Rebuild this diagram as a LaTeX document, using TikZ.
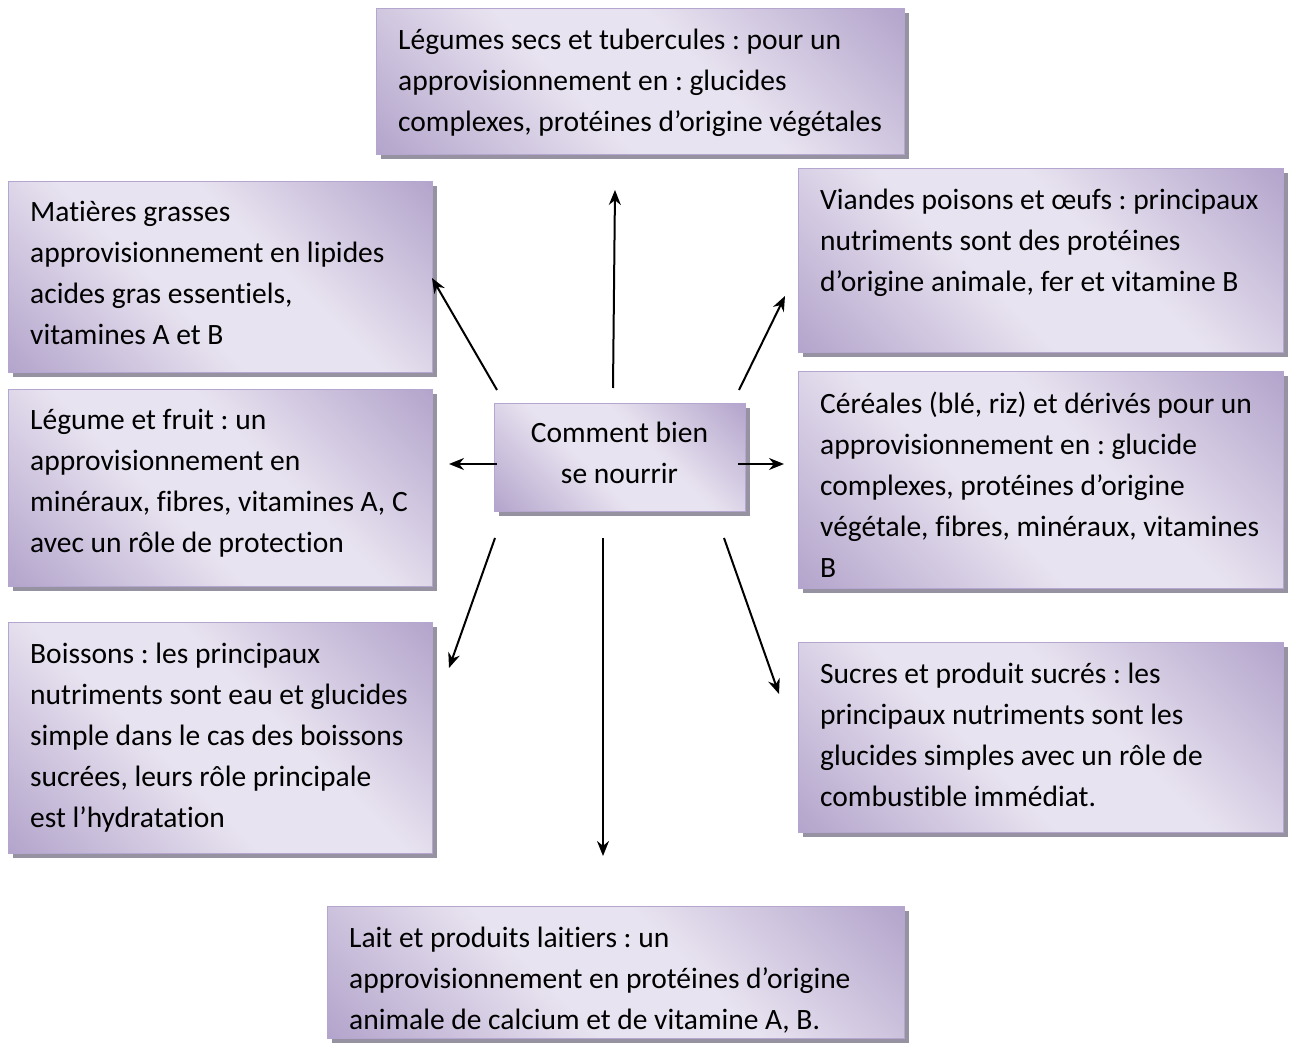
\documentclass[tikz,border=0pt]{standalone}
\usepackage{fontspec}
\setmainfont[Ligatures={NoCommon}]{Carlito}
\frenchspacing
\usetikzlibrary{arrows.meta,shadows}
\definecolor{pdark}{RGB}{174,158,200}
\definecolor{plight}{RGB}{232,227,240}
\definecolor{pborder}{RGB}{180,166,206}
\definecolor{pshadow}{RGB}{150,146,162}
\pgfdeclarehorizontalshading{purpshade}{100bp}{color(0bp)=(pdark); color(12bp)=(pdark); color(42bp)=(plight); color(58bp)=(plight); color(88bp)=(pdark); color(100bp)=(pdark)}
\begin{document}
\begin{tikzpicture}[x=1pt,y=-1pt,
  box/.style={rectangle, draw=pborder, line width=1.2pt, shading=purpshade, shading angle=45,
    drop shadow={shadow xshift=4pt, shadow yshift=-4pt, fill=pshadow, opacity=1},
    inner sep=0pt, anchor=north west},
  txt/.style={anchor=north west, inner sep=0pt, align=left,
    font=\fontsize{29.5}{41}\selectfont\frenchspacing, execute at begin node=\strut},
  arr/.style={line width=2pt, -{Stealth[length=15pt,width=12pt]}}]
\useasboundingbox[fill=white] (0,0) rectangle (1291,1048);

% boxes
\node[box, minimum width=528pt, minimum height=146pt] (b1) at (376,8) {};
\node[box, minimum width=424pt, minimum height=191pt] (b2) at (8,181) {};
\node[box, minimum width=485pt, minimum height=184pt] (b3) at (798,168) {};
\node[box, minimum width=424pt, minimum height=197pt] (b4) at (8,389) {};
\node[box, minimum width=485pt, minimum height=217pt] (b5) at (798,371) {};
\node[box, minimum width=424pt, minimum height=231pt] (b6) at (8,622) {};
\node[box, minimum width=485pt, minimum height=190pt] (b7) at (798,642) {};
\node[box, minimum width=577pt, minimum height=132pt] (b8) at (327,906) {};
\node[box, minimum width=251pt, minimum height=108pt] (c) at (494,403) {};

% texts
\node[txt] (t1) at (398,28.4) {Légumes secs et tubercules : pour un\\approvisionnement en : glucides\\complexes, protéines d’origine végétales};
\node[txt] (t2) at (30,201.4) {Matières grasses\\approvisionnement en lipides\\acides gras essentiels,\\vitamines A et B};
\node[txt] (t3) at (820,188.4) {Viandes poisons et œufs : principaux\\nutriments sont des protéines\\d’origine animale, fer et vitamine B};
\node[txt] (t4) at (30,409.4) {Légume et fruit : un\\approvisionnement en\\minéraux, fibres, vitamines A, C\\avec un rôle de protection};
\node[txt] (t5) at (820,391.4) {Céréales (blé, riz) et dérivés pour un\\approvisionnement en : glucide\\complexes, protéines d’origine\\végétale, fibres, minéraux, vitamines\\B};
\node[txt] (t6) at (30,642.4) {Boissons : les principaux\\nutriments sont eau et glucides\\simple dans le cas des boissons\\sucrées, leurs rôle principale\\est l’hydratation};
\node[txt] (t7) at (820,662.4) {Sucres et produit sucrés : les\\principaux nutriments sont les\\glucides simples avec un rôle de\\combustible immédiat.};
\node[txt] (t8) at (349,926.4) {Lait et produits laitiers : un\\approvisionnement en protéines d’origine\\animale de calcium et de vitamine A, B.};
\node[inner sep=0pt, align=center, font=\fontsize{29.5}{41}\selectfont] (ct) at (619.5,453) {Comment bien\\se nourrir};

% arrow end points
\coordinate (sU) at (613,388);  \coordinate (eU) at (615,190);
\coordinate (sUL) at (497,390); \coordinate (eUL) at (432,278);
\coordinate (sUR) at (739,390); \coordinate (eUR) at (785,296);
\coordinate (sL) at (497,464);  \coordinate (eL) at (449,464);
\coordinate (sR) at (738,464);  \coordinate (eR) at (784,464);
\coordinate (sDL) at (495,538); \coordinate (eDL) at (449,668);
\coordinate (sD) at (603,538);  \coordinate (eD) at (603,856);
\coordinate (sDR) at (724,538); \coordinate (eDR) at (779,694);

\draw[arr] (sU) -- (eU);
\draw[arr] (sUL) -- (eUL);
\draw[arr] (sUR) -- (eUR);
\draw[arr] (sL) -- (eL);
\draw[arr] (sR) -- (eR);
\draw[arr] (sDL) -- (eDL);
\draw[arr] (sD) -- (eD);
\draw[arr] (sDR) -- (eDR);
\end{tikzpicture}
\end{document}
